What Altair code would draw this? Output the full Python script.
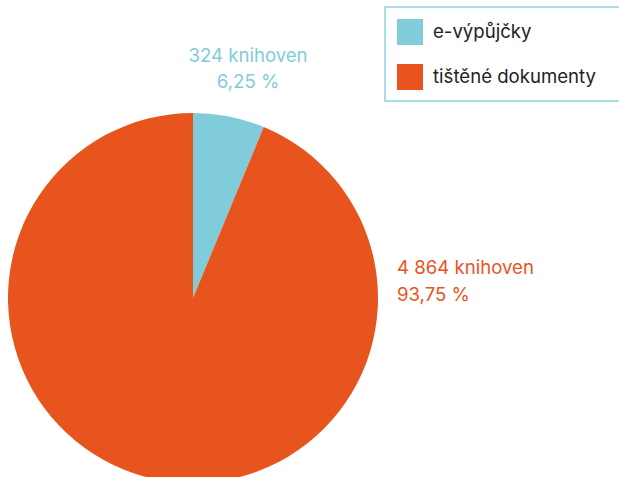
import altair as alt
import pandas as pd

categories = ["e-výpůjčky", "tištěné dokumenty"]
counts = [324, 4864]
count_labels = ["324 knihoven", "4 864 knihoven"]
pct_labels = ["6,25 %", "93,75 %"]
colors = ["#80CCDA", "#E8541E"]

df = pd.DataFrame({
    "kategorie": categories,
    "pocet": counts,
    "order": [0, 1],
    "label": [f"{a}\n{b}" for a, b in zip(count_labels, pct_labels)],
})

FONT = "Inter"
FS = 18.6
BORDER = "#8ED3E0"

color_scale = alt.Scale(domain=categories, range=colors)

pie = alt.Chart(df).mark_arc(radius=185).encode(
    theta=alt.Theta("pocet:Q", stack=True),
    order=alt.Order("order:Q"),
    color=alt.Color(
        "kategorie:N",
        scale=color_scale,
        sort=categories,
        legend=alt.Legend(
            title=None,
            orient="none",
            legendX=385,
            legendY=7,
            padding=12,
            symbolType="square",
            symbolSize=676,
            symbolStrokeWidth=0,
            symbolOffset=0,
            labelFontSize=FS,
            labelFont=FONT,
            labelColor="#222222",
            labelOffset=10,
            rowPadding=19,
            labelLimit=400,
        ),
    ),
    x=alt.value(193),
    y=alt.value(298),
)

# legend frame (decoration)
frame = alt.Chart(pd.DataFrame({"k": [0]})).mark_rect(
    fillOpacity=0, stroke=BORDER, strokeWidth=1.5
).encode(
    x=alt.value(385), x2=alt.value(640), y=alt.value(7), y2=alt.value(101)
)

lbl1 = alt.Chart(df[df["order"] == 0]).mark_text(
    font=FONT, fontSize=FS, align="center", baseline="alphabetic",
    lineBreak="\n", lineHeight=26, color=colors[0],
).encode(text="label:N", x=alt.value(248), y=alt.value(62))

lbl2 = alt.Chart(df[df["order"] == 1]).mark_text(
    font=FONT, fontSize=FS, align="left", baseline="alphabetic",
    lineBreak="\n", lineHeight=27, color=colors[1],
).encode(text="label:N", x=alt.value(397), y=alt.value(274))

chart = alt.layer(pie, frame, lbl1, lbl2).properties(
    width=619, height=477,
    autosize=alt.AutoSizeParams(type="none"),
    padding=0,
).configure_view(stroke=None)

chart.save("out.html", embed_options={"renderer": "svg", "actions": False})
